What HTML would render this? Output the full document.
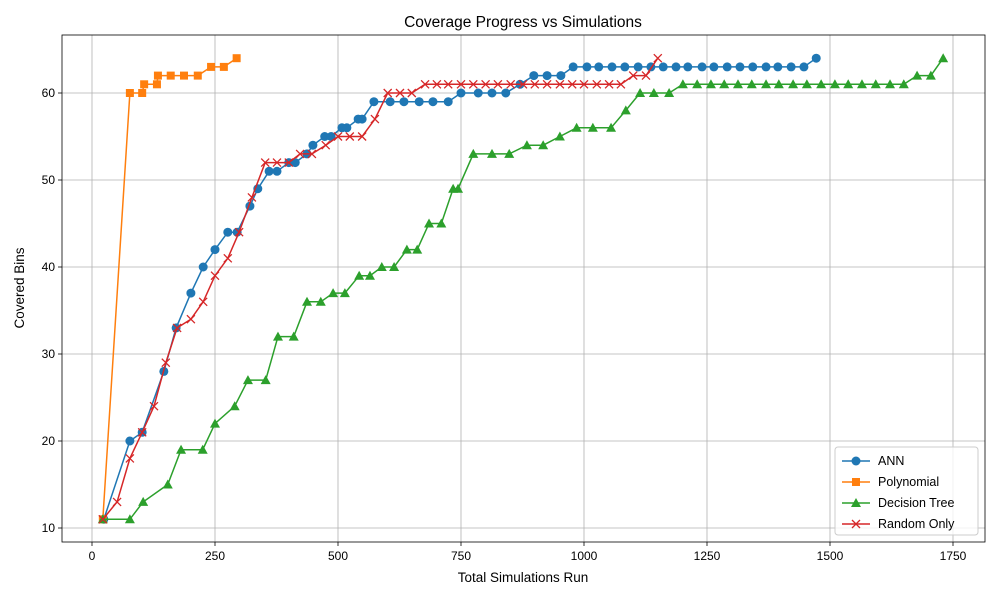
<!DOCTYPE html>
<html><head><meta charset="utf-8"><style>
html,body{margin:0;padding:0;background:#fff;}
svg{display:block;font-family:"Liberation Sans","DejaVu Sans",sans-serif;}
</style></head><body>
<svg id="chart" width="1000" height="600" viewBox="0 0 1000 600" xmlns="http://www.w3.org/2000/svg">
<rect x="0" y="0" width="1000" height="600" fill="#fff"/>
<text x="523" y="27" font-size="15.5" text-anchor="middle" fill="#000">Coverage Progress vs Simulations</text>
<text x="523" y="582" font-size="13.5" text-anchor="middle" fill="#000">Total Simulations Run</text>
<text x="0" y="0" font-size="13.5" text-anchor="middle" fill="#000" transform="translate(24,288) rotate(-90)">Covered Bins</text>
<g id="grid"></g><g id="series"></g><g id="axes"></g>
<g>
<rect x="835" y="447" width="143" height="88" rx="3" fill="#fff" fill-opacity="0.8" stroke="#ccc"/>
<g id="legend"></g>
</g>
</svg>
<script>
const xTicks=[0,250,500,750,1000,1250,1500,1750];
const yTicks=[10,20,30,40,50,60];
const annX=[24,77,102,146,171,201,226,250,276,295,321,337,360,376,400,413,437,449,473,486,508,518,541,549,573,606,634,665,693,724,750,785,813,841,870,898,925,953,978,1006,1030,1057,1083,1110,1136,1161,1187,1211,1240,1264,1291,1317,1343,1370,1394,1421,1447,1472];
const annY=[11,20,21,28,33,37,40,42,44,44,47,49,51,51,52,52,53,54,55,55,56,56,57,57,59,59,59,59,59,59,60,60,60,60,61,62,62,62,63,63,63,63,63,63,63,63,63,63,63,63,63,63,63,63,63,63,63,64];
const polyX=[22,77,102,106,132,134,160,187,215,242,268,294];
const polyY=[11,60,60,61,61,62,62,62,62,63,63,64];
const treeX=[22,77,104,154,181,225,250,290,317,353,378,410,437,465,490,514,543,565,589,614,640,661,685,710,734,744,775,813,848,884,917,951,985,1018,1055,1085,1114,1142,1173,1201,1230,1258,1285,1313,1341,1370,1396,1425,1453,1482,1510,1537,1565,1593,1622,1650,1677,1705,1730];
const treeY=[11,11,13,15,19,19,22,24,27,27,32,32,36,36,37,37,39,39,40,40,42,42,45,45,49,49,53,53,53,54,54,55,56,56,56,58,60,60,60,61,61,61,61,61,61,61,61,61,61,61,61,61,61,61,61,61,62,62,64];
const randX=[22,51,77,102,126,150,173,201,226,250,276,299,325,352,376,400,423,447,475,500,524,549,575,601,626,650,677,701,724,750,775,800,825,851,876,900,925,951,976,1000,1026,1051,1075,1100,1126,1150];
const randY=[11,13,18,21,24,29,33,34,36,39,41,44,48,52,52,52,53,53,54,55,55,55,57,60,60,60,61,61,61,61,61,61,61,61,61,61,61,61,61,61,61,61,61,62,62,64];

const L=62,R=985,T=35,B=542;
const sx=v=>92+v*0.492;
const sy=v=>528-(v-10)*8.7;
const NS='http://www.w3.org/2000/svg';
function mk(tag,attrs,parent){const e=document.createElementNS(NS,tag);for(const k in attrs)e.setAttribute(k,attrs[k]);parent.appendChild(e);return e;}
const grid=document.getElementById('grid'),axes=document.getElementById('axes'),ser=document.getElementById('series'),leg=document.getElementById('legend');
xTicks.forEach(t=>{const x=sx(t);
 const g=mk('line',{x1:x,x2:x,y1:T,y2:B,stroke:'#b0b0b0','stroke-width':0.8},grid);
 
 
 mk('line',{x1:x,x2:x,y1:B,y2:B+4,stroke:'#000','stroke-width':0.8},axes);
 const tx=mk('text',{x:x,y:B+18,'font-size':12,'text-anchor':'middle',fill:'#000'},axes);tx.textContent=t;
 
 
});
yTicks.forEach(t=>{const y=sy(t);
 const g=mk('line',{x1:L,x2:R,y1:y,y2:y,stroke:'#b0b0b0','stroke-width':0.8},grid);
 
 
 mk('line',{x1:L-4,x2:L,y1:y,y2:y,stroke:'#000','stroke-width':0.8},axes);
 const tx=mk('text',{x:L-7,y:y+4,'font-size':12,'text-anchor':'end',fill:'#000'},axes);tx.textContent=t;
 
 
});
const frame=mk('rect',{x:L,y:T,width:R-L,height:B-T,fill:'none',stroke:'#000','stroke-width':0.8},axes);



function marker(type,x,y,c,p){
 if(type==='o')return mk('circle',{cx:x,cy:y,r:4.5,fill:c},p);
 if(type==='s')return mk('rect',{x:x-4,y:y-4,width:8,height:8,fill:c},p);
 if(type==='^')return mk('polygon',{points:`${x},${y-5} ${x-5},${y+4} ${x+5},${y+4}`,fill:c},p);
 return mk('path',{d:`M${x-4},${y-4}L${x+4},${y+4}M${x-4},${y+4}L${x+4},${y-4}`,stroke:c,'stroke-width':1.3,fill:'none'},p);
}
const series=[
 {name:'ANN',key:'ann',xs:annX,ys:annY,c:'#1f77b4',m:'o'},
 {name:'Polynomial',key:'polynomial',xs:polyX,ys:polyY,c:'#ff7f0e',m:'s'},
 {name:'Decision Tree',key:'decision-tree',xs:treeX,ys:treeY,c:'#2ca02c',m:'^'},
 {name:'Random Only',key:'random-only',xs:randX,ys:randY,c:'#d62728',m:'x'}
];
series.forEach((s,i)=>{
 const g=mk('g',{},ser);
 
 
 const pts=s.xs.map((v,j)=>sx(v)+','+sy(s.ys[j])).join(' ');
 const pl=mk('polyline',{points:pts,fill:'none',stroke:s.c,'stroke-width':1.5},g);
 
 
 s.xs.forEach((v,j)=>{const m=marker(s.m,sx(v),sy(s.ys[j]),s.c,g);
  
  });
 const ly=461+i*21;
 const le=mk('g',{},leg);
 
 
 mk('line',{x1:842,x2:870,y1:ly,y2:ly,stroke:s.c,'stroke-width':1.5},le);
 marker(s.m,856,ly,s.c,le);
 const t=mk('text',{x:878,y:ly+4,'font-size':12.5,fill:'#000'},le);t.textContent=s.name;
});
</script>
</body></html>
